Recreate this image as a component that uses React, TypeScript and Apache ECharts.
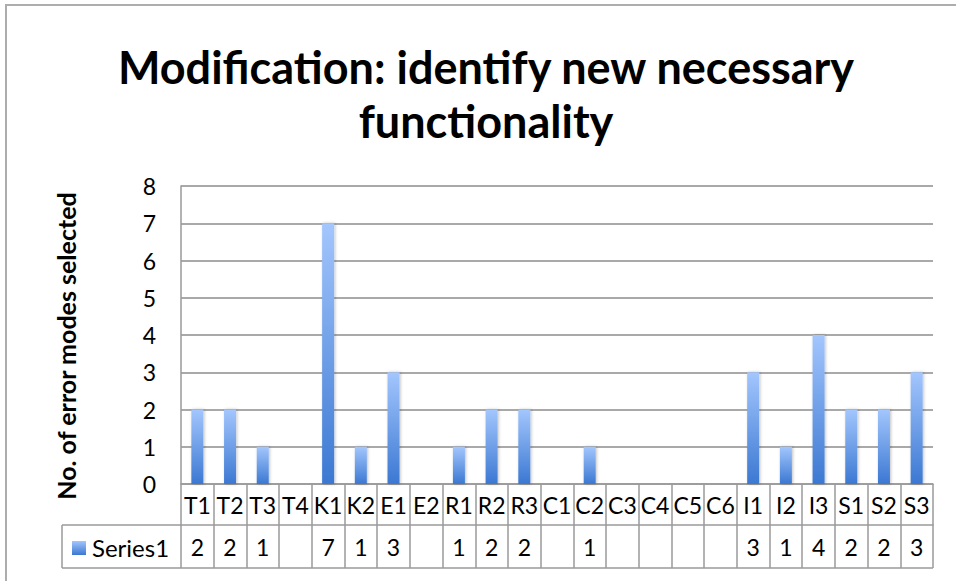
import React, { useEffect, useRef } from "react";
import * as echarts from "echarts";

// Categories (error mode codes) and the number of modes selected for each
const categories = [
  "T1", "T2", "T3", "T4", "K1", "K2", "E1", "E2", "R1", "R2", "R3",
  "C1", "C2", "C3", "C4", "C5", "C6", "I1", "I2", "I3", "S1", "S2", "S3",
];
const series1: (number | null)[] = [
  2, 2, 1, null, 7, 1, 3, null, 1, 2, 2,
  null, 1, null, null, null, null, 3, 1, 4, 2, 2, 3,
];
const yTicks = [0, 1, 2, 3, 4, 5, 6, 7, 8];
const seriesName = "Series1";
const titleText = "Modification: identify new necessary\nfunctionality";
const yAxisName = "No. of error modes selected";

const W = 956;
const H = 581;
const GRID_LEFT = 181;
const GRID_RIGHT_X = 933;
const GRID_TOP = 186;
const GRID_BOTTOM_Y = 484;
const ROW_H = 41;
const TABLE_LEFT = 62;
const FONT = "Lato, 'Open Sans', sans-serif";
const LINE = "#9a9a9a";

const barGradient = () =>
  new echarts.graphic.LinearGradient(0, 0, 0, 1, [
    { offset: 0, color: "#a3c6fd" },
    { offset: 1, color: "#3b78d2" },
  ]);

export default function App() {
  const ref = useRef<HTMLDivElement>(null);

  useEffect(() => {
    if (!ref.current) return;
    const chart = echarts.init(ref.current, null, { renderer: "svg" });
    const row1Bottom = GRID_BOTTOM_Y + ROW_H;
    const row2Bottom = GRID_BOTTOM_Y + 2 * ROW_H + 2;

    chart.setOption({
      animation: false,
      backgroundColor: "#ffffff",
      grid: {
        left: GRID_LEFT,
        right: W - GRID_RIGHT_X,
        top: GRID_TOP,
        bottom: H - GRID_BOTTOM_Y,
        containLabel: false,
      },
      xAxis: [
        {
          type: "category",
          data: categories,
          position: "bottom",
          axisLine: { show: true, lineStyle: { color: LINE, width: 1.5 } },
          axisTick: {
            show: true,
            interval: 0,
            length: row2Bottom - GRID_BOTTOM_Y,
            lineStyle: { color: LINE, width: 1.5 },
          },
          axisLabel: {
            interval: 0,
            margin: ROW_H / 2,
            verticalAlign: "middle",
            fontFamily: FONT,
            fontSize: 23,
            color: "#000",
          },
          splitLine: { show: false },
        },
        {
          type: "category",
          data: categories,
          position: "bottom",
          offset: ROW_H,
          axisLine: { show: true, lineStyle: { color: LINE, width: 1.5 } },
          axisTick: { show: false },
          axisLabel: {
            interval: 0,
            margin: ROW_H / 2 + 1,
            verticalAlign: "middle",
            fontFamily: FONT,
            fontSize: 23,
            color: "#000",
            formatter: (_v: string, i: number) =>
              series1[i] == null ? "" : String(series1[i]),
          },
          splitLine: { show: false },
        },
      ],
      yAxis: {
        type: "value",
        min: yTicks[0],
        max: yTicks[yTicks.length - 1],
        interval: 1,
        axisLine: { show: true, lineStyle: { color: LINE, width: 1.5 } },
        axisTick: { show: false },
        axisLabel: {
          margin: 25,
          fontFamily: FONT,
          fontSize: 23,
          color: "#000",
        },
        splitLine: { show: true, lineStyle: { color: "#8c8c8c", width: 1.5 } },
      },
      series: [
        {
          name: seriesName,
          type: "bar",
          xAxisIndex: 0,
          data: series1,
          barWidth: 12,
          itemStyle: {
            color: barGradient(),
            shadowColor: "rgba(0,0,0,0.25)",
            shadowBlur: 3,
            shadowOffsetX: 1,
            shadowOffsetY: 0,
          },
        },
      ],
      graphic: [
        // outer chart border
        {
          type: "rect",
          shape: { x: 6, y: 5, width: 1200, height: 1200 },
          style: { fill: "none", stroke: "#adadad", lineWidth: 2 },
          silent: true,
        },
        // chart title
        {
          type: "text",
          x: 486,
          y: 40,
          style: {
            text: titleText,
            fontFamily: FONT,
            fontWeight: "bold",
            fontSize: 45,
            lineHeight: 54,
            fill: "#000",
            align: "center",
            verticalAlign: "top",
          },
        },
        // value axis title
        {
          type: "text",
          x: 66,
          y: 346,
          rotation: Math.PI / 2,
          style: {
            text: yAxisName,
            fontFamily: FONT,
            fontWeight: "bold",
            fontSize: 25,
            fill: "#000",
            align: "center",
            verticalAlign: "middle",
          },
        },
        // data table: legend cell and closing lines
        {
          type: "line",
          shape: { x1: TABLE_LEFT, y1: row1Bottom, x2: GRID_LEFT, y2: row1Bottom },
          style: { stroke: LINE, lineWidth: 1.5 },
        },
        {
          type: "line",
          shape: { x1: TABLE_LEFT, y1: row2Bottom, x2: GRID_RIGHT_X, y2: row2Bottom },
          style: { stroke: LINE, lineWidth: 1.5 },
        },
        {
          type: "line",
          shape: { x1: TABLE_LEFT, y1: row1Bottom, x2: TABLE_LEFT, y2: row2Bottom },
          style: { stroke: LINE, lineWidth: 1.5 },
        },
        {
          type: "rect",
          shape: { x: 72, y: 541, width: 14, height: 14 },
          style: { fill: barGradient() },
        },
        {
          type: "text",
          x: 92,
          y: (row1Bottom + row2Bottom) / 2 + 1,
          style: {
            text: seriesName,
            fontFamily: FONT,
            fontSize: 24,
            fill: "#000",
            verticalAlign: "middle",
          },
        },
      ],
    });
    return () => chart.dispose();
  }, []);

  return (
    <div
      ref={ref}
      style={{ position: "absolute", left: 0, top: 0, width: W, height: H }}
    />
  );
}
